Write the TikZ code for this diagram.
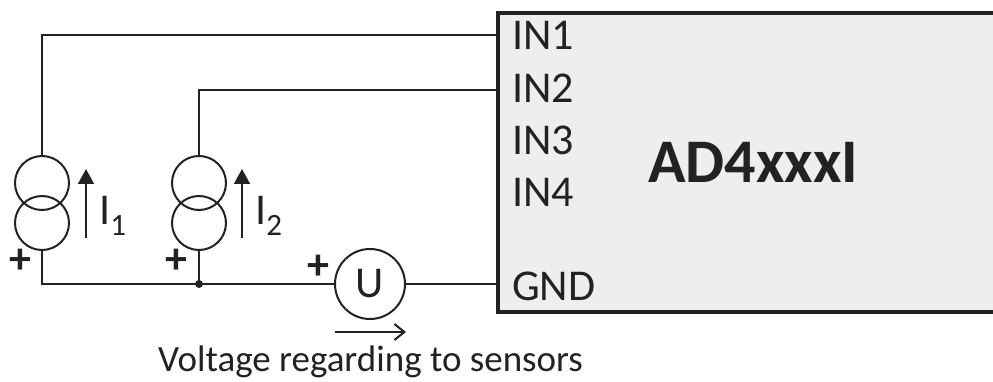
\documentclass[tikz,border=0pt]{standalone}
\usepackage{fontspec}
\setmainfont{Carlito}
\usetikzlibrary{arrows.meta}
\definecolor{ink}{HTML}{222222}
\definecolor{boxgray}{HTML}{EEEEEE}
\tikzset{
  wire/.style={draw=ink, line width=2pt},
  srccirc/.style={circle, draw=ink, line width=2pt, minimum size=54pt, inner sep=0pt},
  pinlabel/.style={anchor=base west, inner sep=0pt, text=ink, font=\fontsize{44}{44}\selectfont},
  plussign/.style={inner sep=0pt, text=ink, font=\fontsize{44}{44}\selectfont\bfseries}
}
\begin{document}
\begin{tikzpicture}[x=1pt, y=-1pt]
  \useasboundingbox (0,0) rectangle (993,382);

  % Device block, cut off at the right edge
  \fill[boxgray] (1010,13) -- (498,13) -- (498,312) -- (1010,312) -- cycle;
  \draw[draw=ink, line width=4.5pt] (1010,13) -- (498,13) -- (498,312) -- (1010,312);
  \coordinate (in1) at (498,35);
  \coordinate (in2) at (498,90);
  \coordinate (gnd) at (498,284);
  \node[pinlabel] (l1) at (512,50) {IN1};
  \node[pinlabel] (l2) at (512,103) {IN2};
  \node[pinlabel] (l3) at (512,155) {IN3};
  \node[pinlabel] (l4) at (512,207) {IN4};
  \node[pinlabel] (lg) at (512,300) {GND};
  \node[anchor=base west, inner sep=0pt, text=ink, font=\fontsize{62}{62}\selectfont\bfseries] (dev) at (648,183) {AD4xxxI};

  % First current source
  \node[srccirc] (s1a) at (42,183) {};
  \node[srccirc] (s1b) at (42,223) {};
  \draw[ink, line width=2pt, -{Triangle[width=16pt, length=15pt]}] (86,238) -- (86,169);
  \node[anchor=base west, inner sep=0pt, text=ink, font=\fontsize{44}{44}\selectfont] (i1) at (99,225) {I\raisebox{-11pt}{\fontsize{31}{31}\selectfont 1}};
  \node[plussign] (p1) at (20,261) {+};

  % Second current source
  \node[srccirc] (s2a) at (199,183) {};
  \node[srccirc] (s2b) at (199,223) {};
  \draw[ink, line width=2pt, -{Triangle[width=16pt, length=15pt]}] (242,238) -- (242,169);
  \node[anchor=base west, inner sep=0pt, text=ink, font=\fontsize{44}{44}\selectfont] (i2) at (255,225) {I\raisebox{-11pt}{\fontsize{31}{31}\selectfont 2}};
  \node[plussign] (p2) at (176,261) {+};

  % Voltmeter
  \node[circle, draw=ink, line width=2pt, minimum size=70pt, inner sep=0pt, text=ink, font=\fontsize{44}{44}\selectfont] (U) at (370,284) {U};
  \node[plussign] (p3) at (318,267) {+};
  \coordinate (va) at (335,332);
  \coordinate (vb) at (406,332);
  \draw[ink, line width=2pt, -{Straight Barb[length=10pt, width=16pt, line width=2pt]}] (va) -- (vb);
  \node[anchor=base west, inner sep=0pt, text=ink, font=\fontsize{37}{37}\selectfont] (cap) at (158,371) {Voltage regarding to sensors};

  % Wiring
  \draw[wire] (s1a.north) |- (in1);
  \draw[wire] (s2a.north) |- (in2);
  \node[circle, fill=ink, inner sep=0pt, minimum size=8pt] (j) at (199,284) {};
  \draw[wire] (s1b.south) |- (j.center) -- (U.west);
  \draw[wire] (s2b.south) -- (j.center);
  \draw[wire] (U.east) -- (gnd);
\end{tikzpicture}
\end{document}
